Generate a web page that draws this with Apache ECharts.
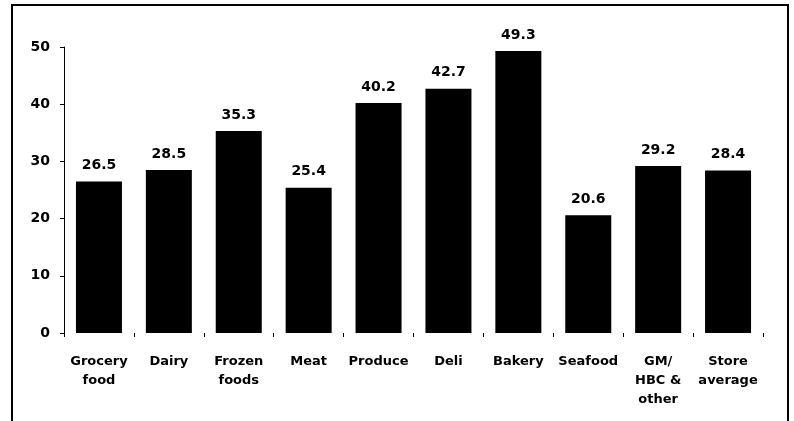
<!DOCTYPE html>
<html>
<head>
<meta charset="utf-8">
<script src="https://cdn.jsdelivr.net/npm/echarts@6/dist/echarts.min.js"></script>
<style>
html,body{margin:0;padding:0;background:#fff;}
#chart{width:794px;height:421px;}
</style>
</head>
<body>
<div id="chart"></div>
<script>
const categories = ["Grocery\nfood", "Dairy", "Frozen\nfoods", "Meat", "Produce", "Deli", "Bakery", "Seafood", "GM/\nHBC &\nother", "Store\naverage"];
const values = [26.5, 28.5, 35.3, 25.4, 40.2, 42.7, 49.3, 20.6, 29.2, 28.4];
const yTicks = [0, 10, 20, 30, 40, 50];

const chart = echarts.init(document.getElementById('chart'));
const font = '"DejaVu Sans", Arial, sans-serif';
chart.setOption({
  animation: false,
  backgroundColor: '#ffffff',
  grid: { left: 64, right: 31, top: 47, bottom: 88, containLabel: false },
  xAxis: {
    type: 'category',
    data: categories,
    axisLine: { show: false },
    axisTick: { show: true, length: 4, lineStyle: { color: '#000', width: 1 } },
    axisLabel: {
      color: '#000', fontFamily: font, fontWeight: 'bold', fontSize: 13,
      lineHeight: 19, margin: 19, interval: 0
    }
  },
  yAxis: {
    type: 'value',
    min: yTicks[0], max: yTicks[yTicks.length - 1], interval: 10,
    axisLine: { show: true, lineStyle: { color: '#000', width: 1 } },
    axisTick: { show: true, length: 4, lineStyle: { color: '#000' } },
    splitLine: { show: false },
    axisLabel: { color: '#000', fontFamily: font, fontWeight: 'bold', fontSize: 14, margin: 14 }
  },
  series: [{
    type: 'bar',
    data: values,
    barWidth: 46,
    itemStyle: { color: '#000' },
    label: {
      show: true, position: 'top', distance: 9,
      color: '#000', fontFamily: font, fontWeight: 'bold', fontSize: 14,
      formatter: p => p.value.toFixed(1)
    }
  }],
  graphic: [{
    type: 'polyline',
    shape: { points: [[12, 430], [12, 5], [788, 5], [788, 430]] },
    style: { stroke: '#000', lineWidth: 2, fill: null }
  }]
});
</script>
</body>
</html>
